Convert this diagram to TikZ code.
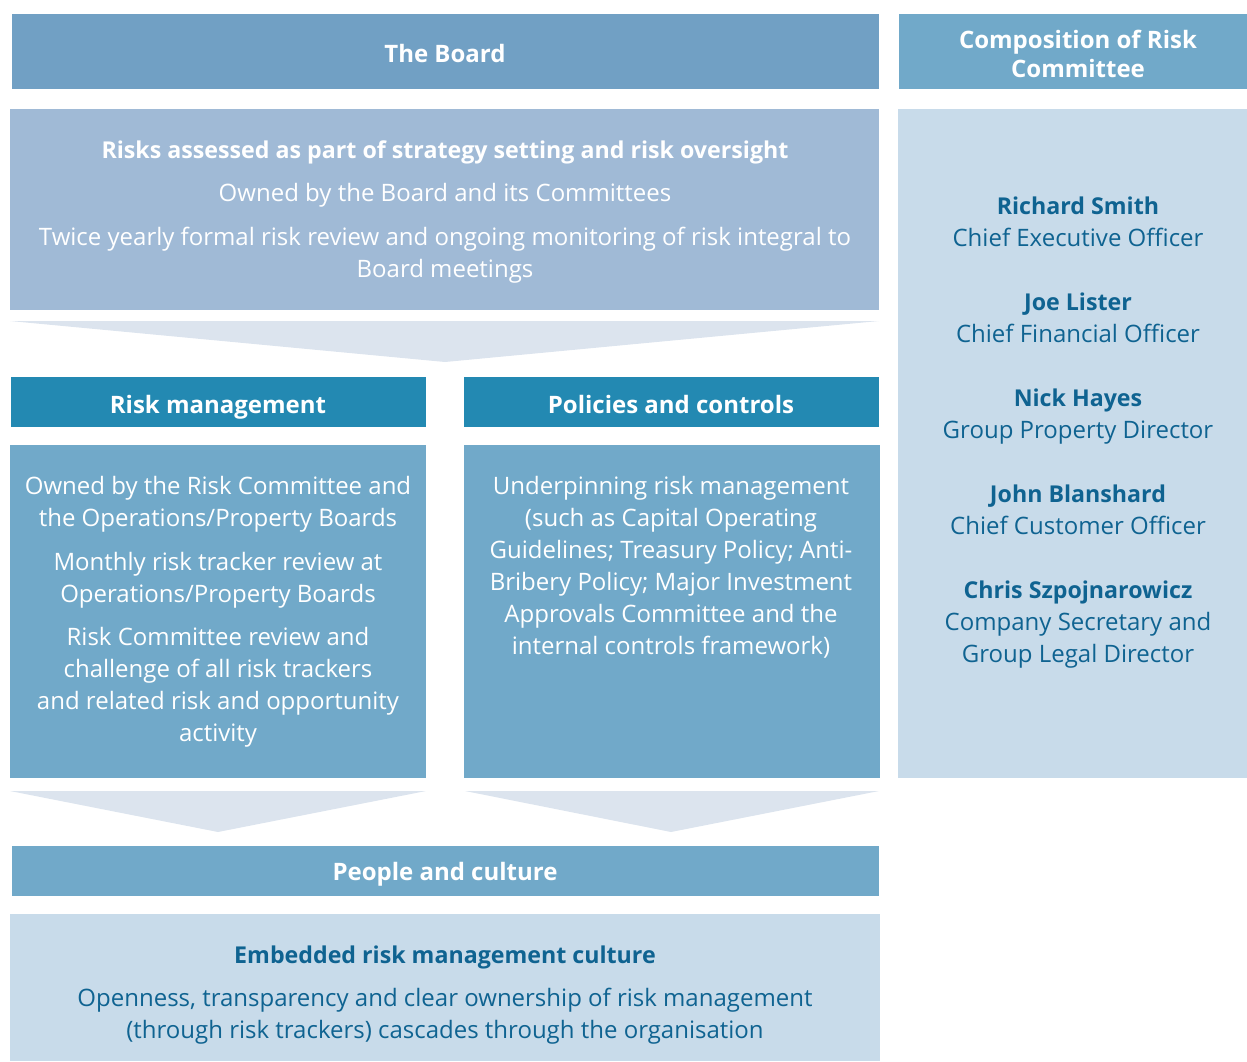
\documentclass[tikz,border=0pt]{standalone}
\usepackage{fontspec}
\setmainfont{Open Sans}
\definecolor{boardhd}{HTML}{71A0C4}
\definecolor{midblue}{HTML}{71A9C9}
\definecolor{boardbody}{HTML}{A0BAD6}
\definecolor{chev}{HTML}{DCE4EE}
\definecolor{teal}{HTML}{2389B2}
\definecolor{light}{HTML}{C8DBEA}
\definecolor{darktext}{HTML}{0F6391}
\begin{document}
\begin{tikzpicture}[x=1pt,y=-1pt,
  box/.style={inner sep=0, anchor=north west, outer sep=0},
  txt/.style={anchor=base, inner sep=0, yshift=-1pt, text=white, font=\fontsize{24}{32}\selectfont},
  btxt/.style={txt, font=\fontsize{23.2}{32}\selectfont\bfseries},
  htxt/.style={txt, font=\fontsize{24}{32}\selectfont\bfseries},
  dtxt/.style={txt, text=darktext},
  dbtxt/.style={btxt, text=darktext}]
\useasboundingbox (0,0) rectangle (1247,1061);
% boxes
\node[box, fill=boardhd, minimum width=867pt, minimum height=75pt] (boardhd) at (12,14) {};
\node[box, fill=midblue, minimum width=348pt, minimum height=75pt] (comphd) at (899,14) {};
\node[box, fill=boardbody, minimum width=869pt, minimum height=201pt] (boardbody) at (10,109) {};
\node[box, fill=light, minimum width=349pt, minimum height=669pt] (comp) at (898,109) {};
\node[box, fill=teal, minimum width=415pt, minimum height=50pt] (rmhd) at (11,377) {};
\node[box, fill=teal, minimum width=415pt, minimum height=50pt] (pchd) at (464,377) {};
\node[box, fill=midblue, minimum width=416pt, minimum height=333pt] (rm) at (10,445) {};
\node[box, fill=midblue, minimum width=416pt, minimum height=333pt] (pc) at (464,445) {};
\node[box, fill=midblue, minimum width=867pt, minimum height=50pt] (pplhd) at (12,846) {};
\node[box, fill=light, minimum width=870pt, minimum height=147pt] (ppl) at (10,914) {};
% chevrons
\fill[chev] (10,321) -- (879,321) -- (445,362) -- cycle;
\fill[chev] (10,791) -- (426,791) -- (218,832) -- cycle;
\fill[chev] (465,791) -- (879,791) -- (671,832) -- cycle;
% header texts
\node[htxt] (tBoard) at (445,61) {The Board};
\node[htxt] (tComp1) at (1078,47) {Composition of Risk};
\node[htxt] (tComp2) at (1078,76) {Committee};
\node[htxt] (tRM) at (218,412) {Risk management};
\node[htxt] (tPC) at (671,412) {Policies and controls};
\node[htxt] (tPPL) at (445,879) {People and culture};
% board body
\node[btxt] (b1) at (445,157) {Risks assessed as part of strategy setting and risk oversight};
\node[txt] (b2) at (445,200) {Owned by the Board and its Committees};
\node[txt] (b3) at (445,244) {Twice yearly formal risk review and ongoing monitoring of risk integral to};
\node[txt] (b4) at (445,276) {Board meetings};
% risk management body
\node[txt] (r1) at (218,493) {Owned by the Risk Committee and};
\node[txt] (r2) at (218,525) {the Operations/Property Boards};
\node[txt] (r3) at (218,569) {Monthly risk tracker review at};
\node[txt] (r4) at (218,601) {Operations/Property Boards};
\node[txt] (r5) at (218,644) {Risk Committee review and};
\node[txt] (r6) at (218,676) {challenge of all risk trackers};
\node[txt] (r7) at (218,708) {and related risk and opportunity};
\node[txt] (r8) at (218,740) {activity};
% policies body
\node[txt] (p1) at (671,493) {Underpinning risk management};
\node[txt] (p2) at (671,525) {(such as Capital Operating};
\node[txt] (p3) at (671,557) {Guidelines; Treasury Policy; Anti-};
\node[txt] (p4) at (671,589) {Bribery Policy; Major Investment};
\node[txt] (p5) at (671,621) {Approvals Committee and the};
\node[txt] (p6) at (671,653) {internal controls framework)};
% composition
\node[dbtxt] (c1n) at (1078,213) {Richard Smith};
\node[dtxt] (c1t) at (1078,245) {Chief Executive Officer};
\node[dbtxt] (c2n) at (1078,309) {Joe Lister};
\node[dtxt] (c2t) at (1078,341) {Chief Financial Officer};
\node[dbtxt] (c3n) at (1078,405) {Nick Hayes};
\node[dtxt] (c3t) at (1078,437) {Group Property Director};
\node[dbtxt] (c4n) at (1078,501) {John Blanshard};
\node[dtxt] (c4t) at (1078,533) {Chief Customer Officer};
\node[dbtxt] (c5n) at (1078,597) {Chris Szpojnarowicz};
\node[dtxt] (c5t) at (1078,629) {Company Secretary and};
\node[dtxt] (c5u) at (1078,661) {Group Legal Director};
% people body
\node[dbtxt] (e1) at (445,962) {Embedded risk management culture};
\node[dtxt] (e2) at (445,1005) {Openness, transparency and clear ownership of risk management};
\node[dtxt] (e3) at (445,1037) {(through risk trackers) cascades through the organisation};
\end{tikzpicture}
\end{document}
